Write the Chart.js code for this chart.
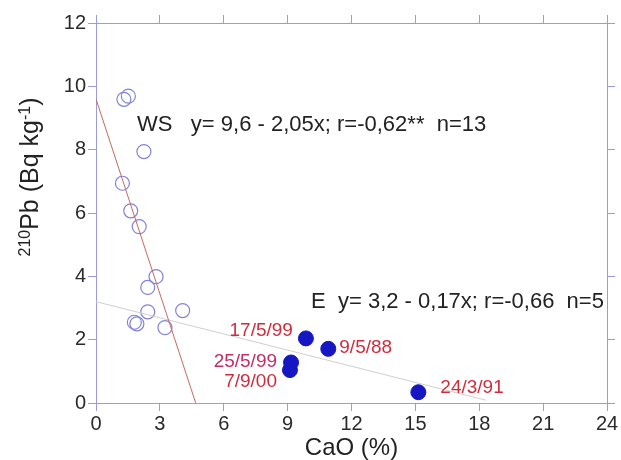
<!DOCTYPE html>
<html>
<head>
<meta charset="utf-8">
<script src="https://cdn.jsdelivr.net/npm/chart.js@4"></script>
<style>
  html, body { margin: 0; padding: 0; background: #fff; }
  #wrap { width: 621px; height: 460px; }
</style>
</head>
<body>
<div id="wrap"><canvas id="pbChart" width="621" height="460"></canvas></div>
<script>
// WS samples (open circles)
const wsCaO = [1.31, 1.52, 2.25, 1.24, 1.63, 2.03, 2.82, 2.43, 1.80, 1.92, 2.43, 3.24, 4.07];
const wsPb  = [9.59, 9.69, 7.94, 6.94, 6.07, 5.57, 3.99, 3.65, 2.55, 2.50, 2.88, 2.38, 2.92];

// E samples (filled circles) with sampling dates
const eCaO  = [9.86, 10.91, 9.16, 9.11, 15.14];
const ePb   = [2.04, 1.71, 1.28, 1.04, 0.34];
const eDates = ['17/5/99', '9/5/88', '25/5/99', '7/9/00', '24/3/91'];

// regression lines: intercept, slope, x range drawn
const wsFit = { a: 9.6, b: -2.05, xFrom: 0, xTo: 4.68 };
const eFit  = { a: 3.2, b: -0.17, xFrom: 0, xTo: 18.3 };

const xTicks = [0, 3, 6, 9, 12, 15, 18, 21, 24];
const yTicks = [0, 2, 4, 6, 8, 10, 12];

const wsText = 'WS   y= 9,6 - 2,05x; r=-0,62**  n=13';
const eText  = 'E  y= 3,2 - 0,17x; r=-0,66  n=5';

const axisColor = '#9a9ae0';
const font = '"Liberation Sans", Arial, sans-serif';

function fitPoints(f) {
  return [f.xFrom, f.xTo].map(x => ({ x: x, y: f.a + f.b * x }));
}
function pairs(xs, ys) {
  return xs.map((x, i) => ({ x: x, y: ys[i] }));
}

// label placement for date tags (offset from point, px)
const dateOffsets = [
  { dx: -13, dy: -8, align: 'right', color: '#d02c3c' },
  { dx: 11, dy: -1, align: 'left', color: '#d02c3c' },
  { dx: -14, dy: -1, align: 'right', color: '#c82a66' },
  { dx: -13, dy: 12, align: 'right', color: '#d02c3c' },
  { dx: 22, dy: -4, align: 'left', color: '#d02c3c' }
];

const textPlugin = {
  id: 'textPlugin',
  afterDatasetsDraw(chart) {
    const ctx = chart.ctx;
    const xs = chart.scales.x, ys = chart.scales.y;
    ctx.save();
    ctx.textBaseline = 'middle';

    // equations
    ctx.fillStyle = '#222';
    ctx.font = '22px ' + font;
    ctx.textAlign = 'left';
    ctx.fillText(wsText, xs.getPixelForValue(1.93), ys.getPixelForValue(8.78));
    ctx.fillText(eText, xs.getPixelForValue(10.1), ys.getPixelForValue(3.19));

    // date tags
    ctx.font = '19px ' + font;
    eDates.forEach((d, i) => {
      const o = dateOffsets[i];
      ctx.fillStyle = o.color;
      ctx.textAlign = o.align;
      ctx.fillText(d, xs.getPixelForValue(eCaO[i]) + o.dx, ys.getPixelForValue(ePb[i]) + o.dy);
    });

    // y axis title with superscripts
    ctx.translate(38, 177);
    ctx.rotate(-Math.PI / 2);
    ctx.fillStyle = '#222';
    ctx.textAlign = 'left';
    ctx.textBaseline = 'alphabetic';
    const parts = [
      { t: '210', sup: true }, { t: 'Pb (Bq kg', sup: false },
      { t: '-1', sup: true }, { t: ')', sup: false }
    ];
    const big = '25px ' + font, small = '16px ' + font;
    let w = 0;
    parts.forEach(p => { ctx.font = p.sup ? small : big; w += ctx.measureText(p.t).width; });
    let cx = -w / 2;
    parts.forEach(p => {
      ctx.font = p.sup ? small : big;
      ctx.fillText(p.t, cx, p.sup ? -8 : 0);
      cx += ctx.measureText(p.t).width;
    });
    ctx.restore();
  }
};

function axisGrid(len) {
  return { display: true, drawOnChartArea: false, drawTicks: true, tickLength: len, color: axisColor, lineWidth: 1 };
}

new Chart(document.getElementById('pbChart').getContext('2d'), {
  type: 'scatter',
  data: {
    datasets: [
      {
        label: 'WS fit', type: 'line', data: fitPoints(wsFit),
        borderColor: '#c46a62', borderWidth: 1, pointRadius: 0, fill: false
      },
      {
        label: 'E fit', type: 'line', data: fitPoints(eFit),
        borderColor: '#cfcfcf', borderWidth: 1, pointRadius: 0, fill: false
      },
      {
        label: 'WS', data: pairs(wsCaO, wsPb),
        pointStyle: 'circle', pointRadius: 7, pointBorderWidth: 1.2,
        borderColor: '#8282d8', backgroundColor: 'rgba(0,0,0,0)'
      },
      {
        label: 'E', data: pairs(eCaO, ePb),
        pointStyle: 'circle', pointRadius: 7.5, pointBorderWidth: 1,
        borderColor: '#1616c2', backgroundColor: '#1616c2'
      }
    ]
  },
  options: {
    responsive: false,
    animation: false,
    layout: { padding: 0 },
    plugins: { legend: { display: false }, tooltip: { enabled: false } },
    scales: {
      x: {
        type: 'linear', position: 'bottom', min: 0, max: 24,
        afterBuildTicks: s => { s.ticks = xTicks.map(v => ({ value: v })); },
        afterFit: s => { s.height = 57; },
        border: { color: axisColor, width: 1 },
        grid: axisGrid(8),
        ticks: { color: '#2a2a2a', font: { family: font, size: 20 }, padding: 1, maxRotation: 0 },
        title: { display: true, text: 'CaO (%)', color: '#222', font: { family: font, size: 24 }, padding: { top: 0, bottom: -3 } }
      },
      x2: {
        type: 'linear', position: 'top', min: 0, max: 24,
        afterBuildTicks: s => { s.ticks = xTicks.map(v => ({ value: v })); },
        afterFit: s => { s.height = 23; },
        border: { color: axisColor, width: 1 },
        grid: axisGrid(8),
        ticks: { display: false }
      },
      y: {
        type: 'linear', position: 'left', min: 0, max: 12,
        afterBuildTicks: s => { s.ticks = yTicks.map(v => ({ value: v })); },
        afterFit: s => { s.width = 96; },
        border: { color: axisColor, width: 1 },
        grid: axisGrid(8),
        ticks: { color: '#2a2a2a', font: { family: font, size: 20 }, padding: 2 }
      },
      y2: {
        type: 'linear', position: 'right', min: 0, max: 12,
        afterBuildTicks: s => { s.ticks = yTicks.map(v => ({ value: v })); },
        afterFit: s => { s.width = 14; },
        border: { color: axisColor, width: 1 },
        grid: axisGrid(8),
        ticks: { display: false }
      }
    }
  },
  plugins: [textPlugin]
});
</script>
</body>
</html>
